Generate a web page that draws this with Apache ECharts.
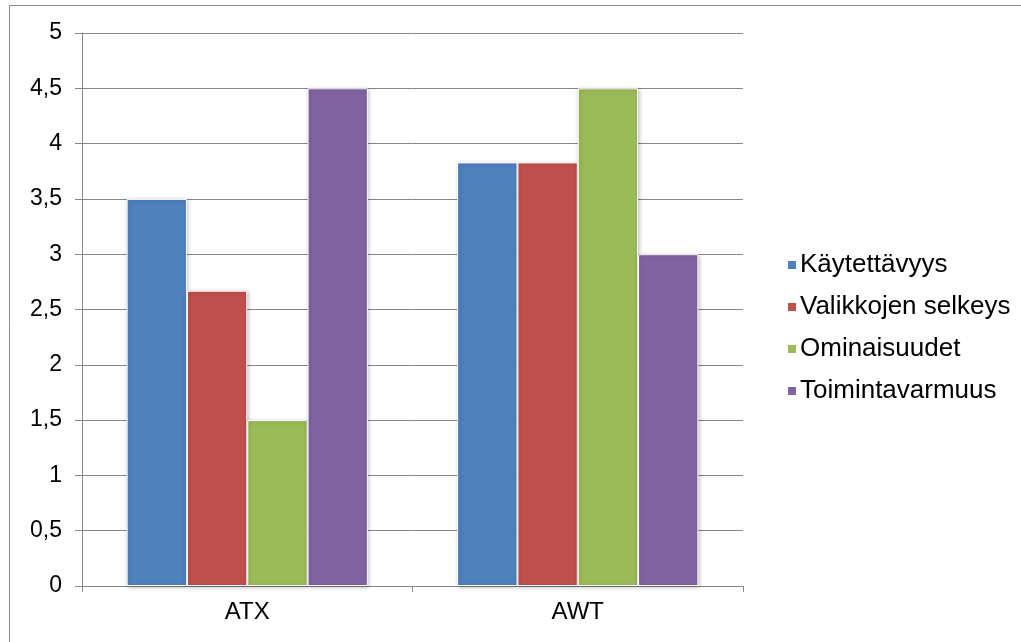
<!DOCTYPE html>
<html><head><meta charset="utf-8">
<script src="https://cdn.jsdelivr.net/npm/echarts@6/dist/echarts.min.js"></script>
<style>html,body{margin:0;padding:0;background:#fff}#c{width:1021px;height:642px}</style>
</head><body><div id="c"></div>
<script>
const categories = ['ATX', 'AWT'];
const seriesNames = ['Käytettävyys', 'Valikkojen selkeys', 'Ominaisuudet', 'Toimintavarmuus'];
const kaytettavyys = [3.5, 3.83];
const valikkojenSelkeys = [2.67, 3.83];
const ominaisuudet = [1.5, 4.5];
const toimintavarmuus = [4.5, 3.0];
const colors = ['#4F81BD', '#C0504D', '#9BBB59', '#8064A2'];
const values = [kaytettavyys, valikkojenSelkeys, ominaisuudet, toimintavarmuus];

const chart = echarts.init(document.getElementById('c'));
chart.setOption({
  animation: false,
  textStyle: {fontFamily: 'Liberation Sans, Arial, sans-serif'},
  graphic: [
    {type: 'line', shape: {x1: 9.5, y1: 5.5, x2: 1021, y2: 5.5}, style: {stroke: '#8c8c8c', lineWidth: 1}},
    {type: 'line', shape: {x1: 9.5, y1: 5.5, x2: 9.5, y2: 642}, style: {stroke: '#8c8c8c', lineWidth: 1}}
  ],
  grid: {left: 82, right: 278, top: 33, bottom: 56},
  legend: {
    orient: 'vertical', left: 781, top: 247,
    itemWidth: 10, itemHeight: 10, itemGap: 16, icon: 'rect',
    textStyle: {fontSize: 26, lineHeight: 26, color: '#000', fontFamily: 'Liberation Sans, Arial, sans-serif', padding: [0,0,0,-2]},
    data: seriesNames
  },
  xAxis: {
    type: 'category', data: categories,
    axisLine: {lineStyle: {color: '#868686', width: 1}},
    axisTick: {show: true, length: 6, lineStyle: {color: '#868686'}},
    axisLabel: {fontSize: 24, color: '#000', margin: 14}
  },
  yAxis: {
    type: 'value', min: 0, max: 5, interval: 0.5,
    axisLine: {show: true, lineStyle: {color: '#868686', width: 1}},
    axisTick: {show: true, length: 7, inside: false, lineStyle: {color: '#868686'}},
    splitLine: {lineStyle: {color: '#868686', width: 1}},
    axisLabel: {fontSize: 23, color: '#000', margin: 20, formatter: v => String(v).replace('.', ',')}
  },
  series: seriesNames.map((n, i) => ({
    name: n, type: 'bar', data: values[i],
    barGap: '0%', barCategoryGap: '27%',
    itemStyle: {color: colors[i], borderColor: '#fff', borderWidth: 1,
      shadowColor: 'rgba(0,0,0,0.25)', shadowBlur: 4, shadowOffsetX: 1, shadowOffsetY: 1}
  }))
});
</script></body></html>
